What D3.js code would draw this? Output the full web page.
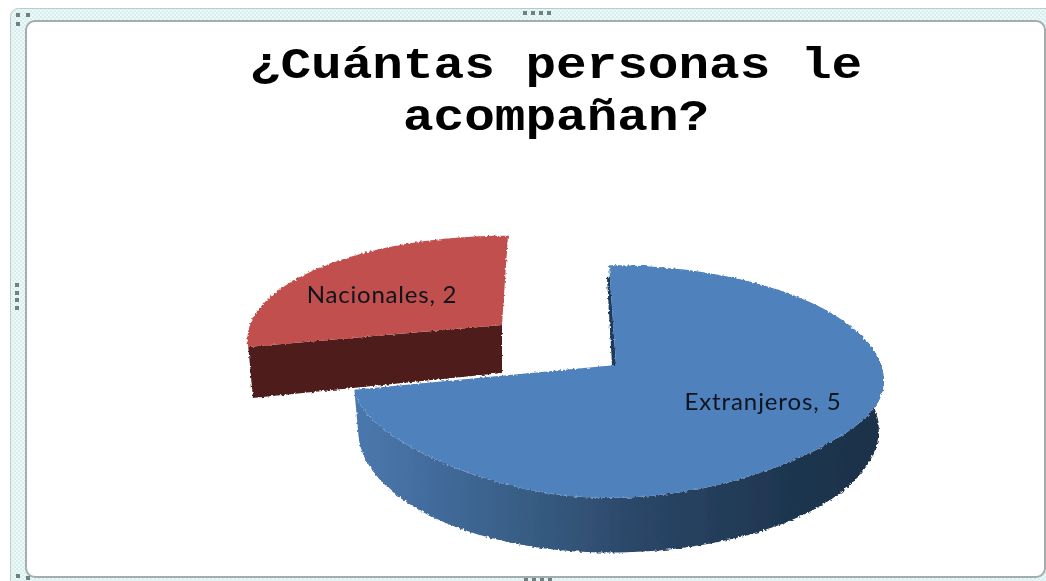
<!DOCTYPE html>
<html>
<head>
<meta charset="utf-8">
<script src="https://cdn.jsdelivr.net/npm/d3@7"></script>
<style>
    html, body { margin: 0; padding: 0; background: #fff; overflow: hidden; }
    svg { display: block; }
</style>
</head>
<body>
<script>
//chart data
var categories = ["Extranjeros", "Nacionales"];
var values = [5, 2];
var titleLines = ["¿Cuántas personas le", "acompañan?"];

//begin script when window loads
window.onload = setChart();

function setChart(){

    var width = 1046,
        height = 581;

    var svg = d3.select("body")
        .append("svg")
        .attr("width", width)
        .attr("height", height);

    var defs = svg.append("defs");

    //dither for the selection band round the chart
    var band = defs.append("pattern")
        .attr("id", "band")
        .attr("width", 4)
        .attr("height", 4)
        .attr("patternUnits", "userSpaceOnUse");
    band.append("rect").attr("width", 4).attr("height", 4).attr("fill", "#ecf9f9");
    band.append("rect").attr("width", 2).attr("height", 2).attr("fill", "#d9eeee");
    band.append("rect").attr("x", 2).attr("y", 2).attr("width", 2).attr("height", 2).attr("fill", "#d9eeee");

    //rough edge of the pasted picture
    var rough = defs.append("filter")
        .attr("id", "rough")
        .attr("x", "-5%").attr("y", "-5%")
        .attr("width", "110%").attr("height", "110%");
    rough.append("feTurbulence")
        .attr("type", "fractalNoise")
        .attr("baseFrequency", 0.4)
        .attr("numOctaves", 1)
        .attr("seed", 4)
        .attr("result", "noise");
    rough.append("feDisplacementMap")
        .attr("in", "SourceGraphic")
        .attr("in2", "noise")
        .attr("scale", 4)
        .attr("xChannelSelector", "R")
        .attr("yChannelSelector", "G")
        .attr("result", "moved");
    rough.append("feGaussianBlur")
        .attr("in", "moved")
        .attr("stdDeviation", 0.4);

    var soft = defs.append("filter").attr("id", "soft");
    soft.append("feGaussianBlur").attr("stdDeviation", 0.5);

    //side wall shading of the big slice
    var wallGrad = defs.append("linearGradient")
        .attr("id", "wallBlue")
        .attr("gradientUnits", "userSpaceOnUse")
        .attr("x1", 354).attr("x2", 884)
        .attr("y1", 0).attr("y2", 0);
    wallGrad.selectAll("stop")
        .data([[0, "#4a78ae"], [0.2, "#3f6795"], [0.4, "#335679"], [0.55, "#2a4566"], [0.8, "#1f3751"], [1, "#1c3149"]])
        .enter()
        .append("stop")
        .attr("offset", function(d){ return d[0]; })
        .attr("stop-color", function(d){ return d[1]; });

    drawFrame(svg);

    //title, the mono face is narrower than the original so it gets stretched
    svg.append("g")
        .attr("filter", "url(#soft)")
        .selectAll("text")
        .data(titleLines)
        .enter()
        .append("text")
        .attr("transform", function(d, i){
            return "translate(556," + (78 + i * 52) + ") scale(1.16,1)";
        })
        .attr("text-anchor", "middle")
        .attr("font-family", "'Liberation Mono', monospace")
        .attr("font-weight", "bold")
        .attr("font-size", 44)
        .attr("fill", "#000")
        .text(function(d){ return d; });

    //slices, starting at twelve o'clock and running clockwise
    var pie = d3.pie().sort(null).startAngle(0).endAngle(2 * Math.PI);
    var arcs = pie(values);

    //each slice is pulled apart so it has its own frame
    var frames = [
        {cx: 609, cy: 365, rxRight: 272, rxLeft: 253, ry: 114, apexShift: 7, depth: 47,
         top: "#4f81bd", wall: "url(#wallBlue)", labelX: 763, labelY: 410, spacing: 0.9},
        {cx: 508, cy: 325, rxRight: 258, rxLeft: 258, ry: 102, apexShift: -6, depth: 48,
         top: "#c0504d", wall: "#4f1f1c", labelX: 382, labelY: 303, spacing: 0.8}
    ];

    var perspective = 0.1416,
        shrink = 0.018,
        flatten = 8;

    //pie plane -> screen; z is 0 on the top face and 1 on the base
    function project(f, angle, r, z){
        var u = Math.sin(angle) * r,
            v = -Math.cos(angle) * r,
            w = 1 / (1 - perspective * v),
            rx = u > 0 ? f.rxRight : f.rxLeft,
            x = f.cx + rx * u * w * (1 - shrink * z) + f.apexShift * (1 - r),
            y = f.cy + f.ry * v * w + f.depth * w * z;
        //the near rim of the top face sits a little flatter than a true ellipse
        if (v > 0) y -= flatten * Math.pow(Math.sin(2 * angle), 2) * r * (1 - z);
        return [x, y];
    }

    var line = d3.line();

    var marks = svg.append("g").attr("filter", "url(#rough)");

    arcs.forEach(function(a, i){
        var f = frames[i];
        var rim = d3.range(0, 121).map(function(k){
            return a.startAngle + (a.endAngle - a.startAngle) * k / 120;
        });

        if (i == 0){
            //outer wall, only the part that faces the viewer
            var front = rim.filter(function(t){ return t > Math.PI * 0.42; });
            var wallPts = front.map(function(t){ return project(f, t, 1, 0); })
                .concat(front.slice().reverse().map(function(t){ return project(f, t, 1, 1); }));
            marks.append("path")
                .attr("class", "wall " + categories[i])
                .attr("d", line(wallPts) + "Z")
                .attr("fill", f.wall);

            //sliver of the cut face showing beside the top edge
            var inner = project(f, 0, 0, 0),
                outer = project(f, 0, 0.87, 0);
            marks.append("path")
                .attr("class", "cut " + categories[i])
                .attr("d", line([inner, outer, [outer[0] - 3, outer[1]], [inner[0] - 4, inner[1]]]) + "Z")
                .attr("fill", "#1d3a5c");
        } else {
            //front cut face of the small slice
            var cutPts = [
                project(f, a.startAngle, 1, 0),
                project(f, a.startAngle, 0, 0),
                project(f, a.startAngle, 0, 1),
                project(f, a.startAngle, 1, 1)
            ];
            marks.append("path")
                .attr("class", "wall " + categories[i])
                .attr("d", line(cutPts) + "Z")
                .attr("fill", f.wall);
        }

        //top face
        var facePts = rim.map(function(t){ return project(f, t, 1, 0); });
        facePts.push(project(f, a.startAngle, 0, 0));
        marks.append("path")
            .attr("class", "face " + categories[i])
            .attr("d", line(facePts) + "Z")
            .attr("fill", f.top);
    });

    //data labels
    svg.append("g")
        .attr("filter", "url(#soft)")
        .selectAll("text")
        .data(arcs)
        .enter()
        .append("text")
        .attr("x", function(d, i){ return frames[i].labelX; })
        .attr("y", function(d, i){ return frames[i].labelY; })
        .attr("text-anchor", "middle")
        .attr("font-family", "Lato, sans-serif")
        .attr("font-size", 24)
        .attr("letter-spacing", function(d, i){ return frames[i].spacing; })
        .attr("fill", "#10131c")
        .text(function(d, i){ return categories[i] + ", " + d.data; });
}

//selection band, border and handles of the chart object
function drawFrame(svg){
    var frame = svg.append("g");

    frame.append("rect")
        .attr("x", 10.5).attr("y", 8.5)
        .attr("width", 1100).attr("height", 580)
        .attr("rx", 8)
        .attr("fill", "url(#band)")
        .attr("stroke", "#bccaca");

    frame.append("rect")
        .attr("x", 26).attr("y", 21)
        .attr("width", 1019).attr("height", 556)
        .attr("rx", 9)
        .attr("fill", "#fff")
        .attr("stroke", "#a4adad")
        .attr("stroke-width", 2);

    var handles = [
        [18, 15], [28, 15], [18, 24],
        [525, 13], [533, 13], [541, 13], [549, 13],
        [17, 285], [17, 293], [17, 300], [17, 308],
        [526, 580], [534, 580], [542, 580], [550, 580],
        [18, 576], [28, 578]
    ];
    frame.selectAll("rect.handle")
        .data(handles)
        .enter()
        .append("rect")
        .attr("class", "handle")
        .attr("x", function(d){ return d[0] - 2; })
        .attr("y", function(d){ return d[1] - 2; })
        .attr("width", 4)
        .attr("height", 4)
        .attr("fill", "#71817f");
}
</script>
</body>
</html>
